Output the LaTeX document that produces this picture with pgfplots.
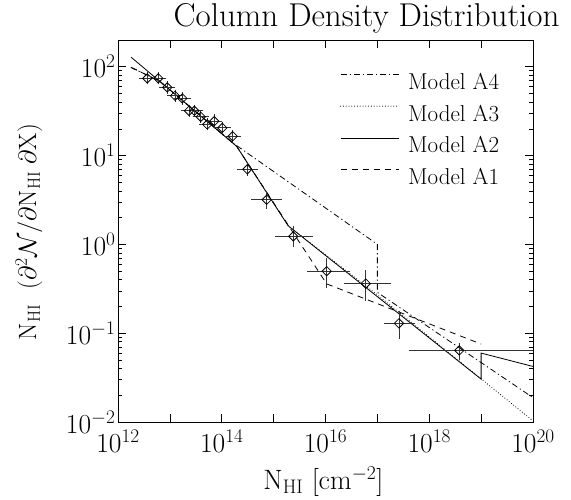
\RequirePackage{fix-cm}
\documentclass[border=0pt]{standalone}
\usepackage{pgfplots}
\pgfplotsset{compat=1.18}
\usepackage{pgfplotstable}
\pgfplotstableread{
x        y      xep      xem      yep     yem
3.67e12  74     0.95e12  0.76e12  6.2     5.7
5.98e12  74     1.55e12  1.23e12  6.2     5.7
8.91e12  58.5   2.31e12  1.84e12  4.9     4.5
1.256e13 47.1   3.25e12  2.59e12  4.0     3.6
1.738e13 44     4.5e12   3.58e12  3.7     3.4
2.34e13  31.9   6.06e12  4.82e12  2.7     2.5
2.96e13  31.9   7.67e12  6.1e12   2.7     2.5
3.93e13  27.3   1.02e13  8.1e12   2.3     2.1
5.26e13  22.4   1.36e13  1.08e13  1.9     1.7
7.18e13  24.4   1.86e13  1.48e13  2.5     2.3
1.026e14 20.5   2.66e13  2.11e13  1.7     1.6
1.626e14 16.5   4.2e13   3.35e13  1.4     1.3
3.11e14  7.0    1.24e14  0.88e14  0.8     0.72
7.35e14  3.18   5.45e14  3.12e14  0.55    0.47
2.39e15  1.23   2.63e15  1.16e15  0.27    0.23
1.054e16 0.499  1.506e16 5.52e15  0.147   0.147
5.96e16  0.362  1.004e17 3.42e16  0.113   0.113
2.60e17  0.129  1.99e17  1.05e17  0.036   0.035
3.79e18  0.064  1e21     3.33e18  0.0083  0.0107
}\obsdata
\begin{document}
\begin{tikzpicture}
\path[use as bounding box] (-118pt,-77pt) rectangle (453pt,422pt);
\begin{axis}[
  scale only axis, width=415pt, height=382pt,
  xmode=log, ymode=log,
  xmin=1e12, xmax=1e20, ymin=1e-2, ymax=200,
  xtick={1e12,1e13,1e14,1e15,1e16,1e17,1e18,1e19,1e20},
  xticklabels={$10^{12}$,,$10^{14}$,,$10^{16}$,,$10^{18}$,,$10^{20}$},
  xminorticks=false,
  ytick={1e-2,1e-1,1,10,100},
  yticklabels={$10^{-2}$,$10^{-1}$,$10^{0}$,$10^{1}$,$10^{2}$},
  tick align=inside,
  major tick length=8pt, minor tick length=4pt,
  tick style={black, line width=0.6pt},
  axis line style={line width=0.8pt},
  ticklabel style={font=\fontsize{27.5}{32}\selectfont},
  xticklabel style={yshift=-5pt},
  yticklabel style={xshift=1pt},
  title={Column Density Distribution},
  title style={font=\fontsize{33}{39}\selectfont, inner sep=0pt, at={(axis description cs:0.599,1.0209)}, anchor=base},
  xlabel={$\mathrm{N_{HI}}\ [\mathrm{cm^{-2}}]$},
  xlabel style={font=\fontsize{28}{33}\selectfont, inner sep=0pt, at={(axis description cs:0.495,-0.176)}, anchor=base},
  ylabel={$\mathrm{N_{HI}}\ \ (\partial^2\mathcal{N}/\partial\mathrm{N_{HI}}\;\partial\mathrm{X})$},
  ylabel style={font=\fontsize{25}{30}\selectfont, inner sep=0pt, at={(axis description cs:-0.2145,0.497)}, anchor=center},
  legend style={draw=none, fill=none, at={(0.535,0.9136)}, anchor=north west,
    font=\fontsize{23}{27}\selectfont, row sep=14pt, inner sep=0pt, outer sep=0pt,
    nodes={inner sep=0pt}, column sep=9pt},
  legend cell align=left,
  legend image code/.code={\draw[#1] (0pt,7.5pt) -- (58pt,7.5pt);},
]
\addplot[black, line width=0.8pt, dash pattern=on 6pt off 3pt on 1.2pt off 3pt]
  coordinates {(1.8e12,98) (6.3e12,69) (1.66e14,13.8) (1e17,1.0) (1e17,0.288) (1e20,0.0188)};
\addlegendentry{Model A4}
\addplot[black, line width=1.1pt, line cap=round, dash pattern=on 0pt off 2.8pt]
  coordinates {(1.8e12,98) (6.3e12,69) (1.94e14,12.7) (1.905e15,1.62) (1e17,0.27) (1e20,0.0103)};
\addlegendentry{Model A3}
\addplot[black, line width=0.8pt]
  coordinates {(1.8e12,127.7) (1.94e14,12.7) (1.905e15,1.62) (1e19,0.0304) (1e19,0.0597) (1e20,0.0422)};
\addlegendentry{Model A2}
\addplot[black, line width=0.8pt, dash pattern=on 6pt off 5pt]
  coordinates {(1.8e12,98) (6.3e12,69) (1.94e14,12.7) (1.054e16,0.359) (1e19,0.0755)};
\addlegendentry{Model A1}
\addplot[forget plot, only marks, mark=square, mark size=3.3pt,
  mark options={rotate=45, solid, line width=0.8pt, draw=black, fill=none},
  error bars/.cd, x dir=both, y dir=both, x explicit, y explicit,
  error bar style={line width=0.8pt, black!80},
  error mark options={line width=0.8pt, mark size=3pt, black!80}]
  table[x=x, y=y, x error plus=xep, x error minus=xem, y error plus=yep, y error minus=yem] {\obsdata};
\end{axis}
\end{tikzpicture}
\end{document}
